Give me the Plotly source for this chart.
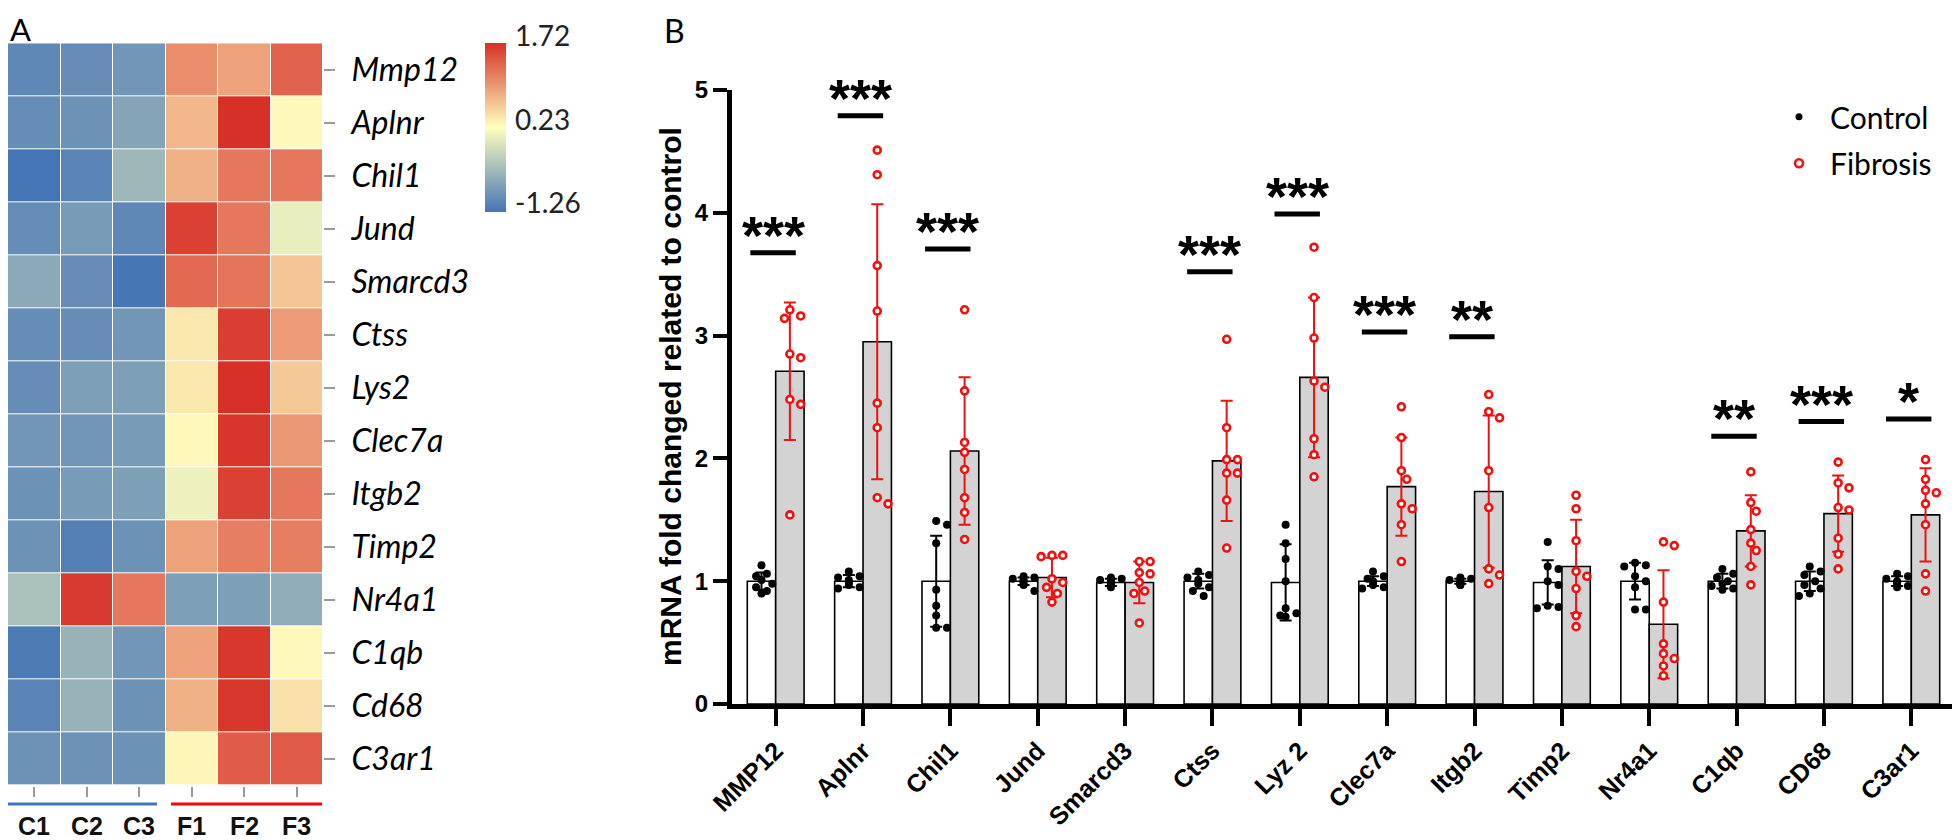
import numpy as np
import plotly.graph_objects as go

# ---------------- data ----------------
hm_rows = ["Mmp12", "Aplnr", "Chil1", "Jund", "Smarcd3", "Ctss", "Lys2",
           "Clec7a", "Itgb2", "Timp2", "Nr4a1", "C1qb", "Cd68", "C3ar1"]
hm_cols = ["C1", "C2", "C3", "F1", "F2", "F3"]
hm_z = [
    [-1.05, -1.00, -0.90, 1.05, 0.90, 1.35],
    [-1.00, -0.95, -0.75, 0.75, 1.72, 0.27],
    [-1.26, -1.10, -0.55, 0.80, 1.20, 1.20],
    [-1.00, -0.85, -1.05, 1.60, 1.20, 0.05],
    [-0.70, -1.00, -1.25, 1.30, 1.22, 0.65],
    [-1.00, -1.00, -0.90, 0.40, 1.62, 0.95],
    [-1.00, -0.80, -0.80, 0.40, 1.72, 0.62],
    [-0.90, -0.90, -0.85, 0.28, 1.68, 0.97],
    [-0.95, -0.85, -0.80, 0.08, 1.60, 1.20],
    [-0.95, -1.15, -0.95, 0.90, 1.15, 1.15],
    [-0.45, 1.65, 1.20, -0.80, -0.80, -0.65],
    [-1.20, -0.60, -0.90, 0.90, 1.67, 0.28],
    [-1.10, -0.60, -0.95, 0.80, 1.67, 0.45],
    [-0.95, -0.95, -0.95, 0.30, 1.40, 1.40],
]
cbar_ticks = [1.72, 0.23, -1.26]

genes = ["MMP12", "Aplnr", "Chil1", "Jund", "Smarcd3", "Ctss", "Lyz 2",
         "Clec7a", "Itgb2", "Timp2", "Nr4a1", "C1qb", "CD68", "C3ar1"]
ctrl_mean = [1.00, 1.00, 1.00, 1.00, 0.99, 1.00, 0.99, 1.00, 1.00, 0.99, 1.00, 1.00, 1.00, 1.00]
ctrl_sd = [0.07, 0.05, 0.37, 0.03, 0.03, 0.06, 0.31, 0.04, 0.02, 0.18, 0.15, 0.06, 0.08, 0.04]
fib_mean = [2.71, 2.95, 2.06, 1.03, 0.99, 1.98, 2.66, 1.77, 1.73, 1.12, 0.65, 1.41, 1.55, 1.54]
fib_sd = [0.56, 1.12, 0.60, 0.16, 0.17, 0.49, 0.65, 0.40, 0.62, 0.38, 0.44, 0.29, 0.31, 0.38]

ctrl_pts = [
    [1.13, 1.06, 1.04, 1.01, 0.98, 0.95, 0.92, 0.90],
    [1.08, 1.04, 1.03, 1.01, 0.99, 0.97, 0.95, 0.94],
    [1.49, 1.46, 1.31, 0.93, 0.80, 0.72, 0.62, 0.62],
    [1.04, 1.03, 1.02, 1.01, 1.00, 0.99, 0.97, 0.92],
    [1.03, 1.02, 1.01, 1.00, 0.99, 0.98, 0.97, 0.95],
    [1.08, 1.05, 1.03, 1.01, 0.98, 0.95, 0.92, 0.88],
    [1.46, 1.31, 1.18, 1.00, 0.78, 0.74, 0.72, 0.71],
    [1.08, 1.04, 1.02, 1.00, 0.99, 0.97, 0.95, 0.94],
    [1.03, 1.02, 1.01, 1.00, 0.99, 0.98, 0.97, 0.97],
    [1.32, 1.12, 1.10, 1.00, 0.97, 0.80, 0.79, 0.78],
    [1.15, 1.13, 1.12, 1.04, 1.00, 0.95, 0.77, 0.77],
    [1.10, 1.06, 1.03, 1.00, 0.98, 0.96, 0.94, 0.93],
    [1.12, 1.08, 1.05, 1.00, 0.97, 0.94, 0.90, 0.88],
    [1.06, 1.04, 1.02, 1.00, 0.99, 0.97, 0.96, 0.95],
]
fib_pts = [
    [3.21, 3.16, 3.14, 2.85, 2.82, 2.48, 2.44, 1.54],
    [4.51, 4.31, 3.57, 3.20, 2.45, 2.25, 1.68, 1.63],
    [3.21, 2.55, 2.13, 2.05, 1.91, 1.68, 1.56, 1.34],
    [1.21, 1.21, 1.20, 1.02, 0.99, 0.95, 0.90, 0.83],
    [1.16, 1.16, 1.07, 1.06, 0.99, 0.92, 0.90, 0.66],
    [2.97, 2.25, 1.99, 1.99, 1.88, 1.88, 1.66, 1.27],
    [3.72, 3.31, 2.98, 2.63, 2.58, 2.16, 2.03, 1.85],
    [2.42, 2.17, 1.90, 1.83, 1.63, 1.59, 1.46, 1.16],
    [2.52, 2.38, 2.33, 1.90, 1.60, 1.10, 1.05, 0.98],
    [1.70, 1.59, 1.33, 1.08, 1.04, 0.94, 0.72, 0.63],
    [1.32, 1.29, 0.83, 0.49, 0.41, 0.37, 0.31, 0.23],
    [1.89, 1.64, 1.57, 1.42, 1.31, 1.25, 1.12, 0.97],
    [1.97, 1.80, 1.76, 1.60, 1.58, 1.35, 1.22, 1.10],
    [1.99, 1.83, 1.74, 1.72, 1.63, 1.46, 1.06, 0.92],
]
sig_labels = ["***", "***", "***", "", "", "***", "***", "***", "**", "", "", "**", "***", "*"]
sig_y = [3.675, 4.79, 3.705, None, None, 3.52, 3.99, 3.03, 2.99, None, None, 2.18, 2.30, 2.32]

# ---------------- geometry / style ----------------
W, H = 1960, 840
OFF = 8  # page body margin shifts the figure by 8px right and down
def px(x): return (x - OFF) / W
def py(y): return 1 - (y - OFF) / H

SANS = "Liberation Sans, Arial, sans-serif"
SOFT = "Lato, Noto Sans, sans-serif"
BAR_W = 0.325
CAT_PX = (1955 - 732) / 14.0
UNIT_PX = (704 - 90) / 5.0
RED = "#f01010"

def swarm(vals, center, diam_px=9.0, maxoff_px=12.0):
    placed = []
    xs = [0.0] * len(vals)
    order = sorted(range(len(vals)), key=lambda k: -vals[k])
    for k in order:
        yk = vals[k] * UNIT_PX
        cands = [0.0]
        for s in range(1, 8):
            cands += [s * diam_px * 0.6, -s * diam_px * 0.6]
        best = 0.0
        for c in cands:
            if abs(c) > maxoff_px:
                continue
            if all((c - a) ** 2 + (yk - b) ** 2 >= diam_px ** 2 for a, b in placed):
                best = c
                break
        placed.append((best, yk))
        xs[k] = center + best / CAT_PX
    return xs

idx = np.arange(len(genes))
xc = idx - BAR_W / 2
xf = idx + BAR_W / 2

fig = go.Figure()

# ---- Panel A heatmap ----
fig.add_trace(go.Heatmap(
    z=hm_z, x=hm_cols, y=hm_rows, xaxis="x", yaxis="y",
    zmin=-1.26, zmax=1.72,
    colorscale=[[0, "#4575b4"], [0.5, "#ffffbf"], [1, "#d73027"]],
    xgap=1, ygap=1,
    colorbar=dict(x=px(485), xanchor="left", y=py(43.3), yanchor="top",
                  len=169, lenmode="pixels", thickness=21, thicknessmode="pixels",
                  xpad=0, ypad=0, outlinewidth=0, showticklabels=False, ticks=""),
    hoverinfo="skip",
))

# ---- Panel B bars ----
fig.add_trace(go.Bar(
    x=xc, y=ctrl_mean, width=BAR_W, xaxis="x2", yaxis="y2",
    marker=dict(color="white", line=dict(color="black", width=1.6)),
    error_y=dict(type="data", array=ctrl_sd, color="black", thickness=2, width=6),
    showlegend=False,
))
fig.add_trace(go.Bar(
    x=xf, y=fib_mean, width=BAR_W, xaxis="x2", yaxis="y2",
    marker=dict(color="#d3d3d3", line=dict(color="black", width=1.6)),
    error_y=dict(type="data", array=fib_sd, color=RED, thickness=2, width=6),
    showlegend=False,
))

cx, cy, fx, fy = [], [], [], []
for i in idx:
    cx += swarm(ctrl_pts[i], xc[i]); cy += ctrl_pts[i]
    fx += swarm(fib_pts[i], xf[i]); fy += fib_pts[i]

fig.add_trace(go.Scatter(
    x=cx, y=cy, mode="markers", xaxis="x2", yaxis="y2", name="Control",
    marker=dict(color="black", size=8), cliponaxis=False,
))
fig.add_trace(go.Scatter(
    x=fx, y=fy, mode="markers", xaxis="x2", yaxis="y2", name="Fibrosis",
    marker=dict(color="white", size=7, line=dict(color=RED, width=2.6)), cliponaxis=False,
))

shapes = []
annotations = []

# significance lines and stars
for i, (lab, yv) in enumerate(zip(sig_labels, sig_y)):
    if not lab:
        continue
    shapes.append(dict(type="line", xref="x2", yref="y2", x0=i - 0.29, x1=i + 0.23,
                       y0=yv, y1=yv, line=dict(color="black", width=5)))
    annotations.append(dict(x=i - 0.03, y=yv, xref="x2", yref="y2", text=lab,
                            showarrow=False, yanchor="middle", yshift=18,
                            font=dict(family=SANS, size=54, color="black", weight="bold")))

# heatmap column labels and group lines
for c in hm_cols:
    annotations.append(dict(x=c, y=py(810), xref="x", yref="paper", text=c, showarrow=False,
                            yanchor="top", font=dict(family=SANS, size=25, color="#111", weight="bold")))
shapes.append(dict(type="line", xref="paper", yref="paper", x0=px(8), x1=px(157),
                   y0=py(804), y1=py(804), line=dict(color="#4472c4", width=3)))
shapes.append(dict(type="line", xref="paper", yref="paper", x0=px(171), x1=px(322),
                   y0=py(804), y1=py(804), line=dict(color="#ff0000", width=3)))

# colorbar labels
for v, yy in zip(cbar_ticks, [35, 119, 202]):
    annotations.append(dict(x=px(513), y=py(yy), xref="paper", yref="paper",
                            text=f"{v:.2f}", showarrow=False, xanchor="left", yanchor="middle",
                            font=dict(family=SOFT, size=28, color="#222")))

# panel letters
annotations.append(dict(x=px(8), y=py(8), xref="paper", yref="paper", text="A", showarrow=False,
                        xanchor="left", yanchor="top", font=dict(family=SOFT, size=31, color="black")))
annotations.append(dict(x=px(662), y=py(9), xref="paper", yref="paper", text="B", showarrow=False,
                        xanchor="left", yanchor="top", font=dict(family=SOFT, size=32, color="black")))

# y title
annotations.append(dict(x=px(670), y=py(397), xref="paper", yref="paper",
                        text="mRNA fold changed related to control", textangle=-90,
                        showarrow=False, xanchor="center", yanchor="middle",
                        font=dict(family=SANS, size=30, color="black", weight="bold")))

# legend
shapes.append(dict(type="circle", xref="paper", yref="paper",
                   x0=px(1795.5), x1=px(1802.5), y0=py(120.2), y1=py(113.2),
                   fillcolor="black", line=dict(color="black", width=0)))
shapes.append(dict(type="circle", xref="paper", yref="paper",
                   x0=px(1795), x1=px(1803), y0=py(167.3), y1=py(159.3),
                   fillcolor="white", line=dict(color=RED, width=2.6)))
for t, yy in [("Control", 116.7), ("Fibrosis", 163.3)]:
    annotations.append(dict(x=px(1828), y=py(yy), xref="paper", yref="paper", text=t,
                            showarrow=False, xanchor="left", yanchor="middle",
                            font=dict(family=SOFT, size=30, color="black")))

fig.update_layout(
    width=W, height=H, margin=dict(l=0, r=0, t=0, b=0, autoexpand=False),
    paper_bgcolor="white", plot_bgcolor="white", showlegend=False,
    barmode="overlay",
    shapes=shapes, annotations=annotations,
    xaxis=dict(domain=[px(8), px(323)], anchor="y", showticklabels=False, automargin=False,
               ticks="outside", ticklen=10, tickwidth=2, tickcolor="#9a9a9a",
               showgrid=False, zeroline=False, showline=False),
    yaxis=dict(domain=[py(785.7), py(43.3)], anchor="x", autorange="reversed", side="right",
               automargin=False, ticklabelstandoff=10,
               ticks="outside", ticklen=11, tickwidth=2, tickcolor="#9a9a9a",
               tickfont=dict(family=SOFT, size=32, color="black", style="italic"),
               showgrid=False, zeroline=False, showline=False),
    xaxis2=dict(domain=[px(732), px(1955)], anchor="y2", range=[-0.5, 13.5], automargin=False,
                tickmode="array", tickvals=list(idx), ticktext=genes, tickangle=-45,
                ticks="outside", ticklen=17, tickwidth=4, tickcolor="black",
                showline=True, linewidth=5, linecolor="black",
                tickfont=dict(family=SANS, size=25, color="black", weight="bold"),
                showgrid=False, zeroline=False),
    yaxis2=dict(domain=[py(704), py(90)], anchor="x2", range=[0, 5], automargin=False,
                tickmode="array", tickvals=[0, 1, 2, 3, 4, 5],
                ticks="outside", ticklen=14, tickwidth=4, tickcolor="black",
                showline=True, linewidth=5, linecolor="black",
                tickfont=dict(family=SANS, size=24, color="black", weight="bold"),
                showgrid=False, zeroline=False),
)

fig.write_html("out.html")
